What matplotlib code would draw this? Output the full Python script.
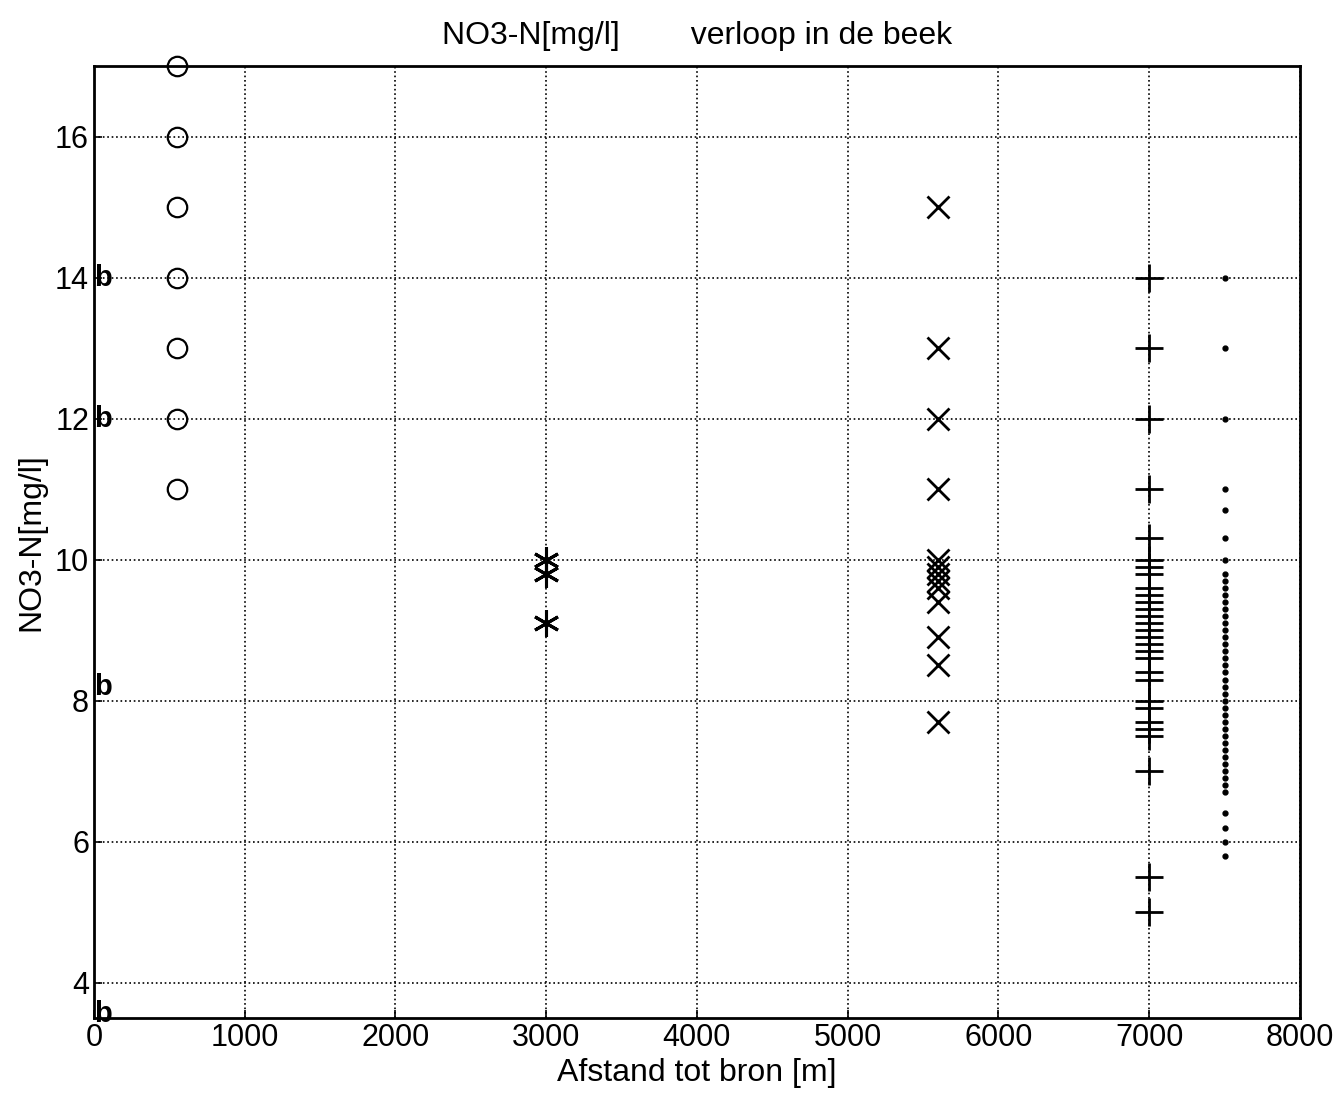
import matplotlib
matplotlib.use("Agg")
import matplotlib.pyplot as plt

plt.rcParams['font.family'] = ['Liberation Sans', 'DejaVu Sans']

# metingen per locatie (afstand tot bron in m, NO3-N in mg/l)
x_bron = 550
no3_bron = [17, 16, 15, 14, 13, 12, 11]

x_3000 = 3000
no3_3000 = [10.0, 9.8, 9.1]

x_5600 = 5600
no3_5600 = [15, 13, 12, 11, 10.0, 9.9, 9.8, 9.7, 9.6, 9.4, 8.9, 8.5, 7.7]

x_7000 = 7000
no3_7000 = [14, 13, 12, 11, 10.3, 10.0, 9.9, 9.8, 9.6, 9.5, 9.4, 9.3, 9.2,
            9.1, 9.0, 8.9, 8.8, 8.7, 8.6, 8.4, 8.3, 8.0, 7.9, 7.7, 7.6,
            7.5, 7.0, 5.5, 5.0]

x_7500 = 7500
no3_7500 = [14, 13, 12, 11, 10.7, 10.3, 10.0, 9.8, 9.7, 9.6, 9.5, 9.4, 9.3,
            9.2, 9.1, 9.0, 8.9, 8.8, 8.7, 8.6, 8.5, 8.4, 8.3, 8.2, 8.1, 8.0,
            7.9, 7.8, 7.7, 7.6, 7.5, 7.4, 7.3, 7.2, 7.1, 7.0, 6.9, 6.8, 6.7,
            6.4, 6.2, 6.0, 5.8]

# losse 'b' tekens langs de y-as
b_y = [14, 12, 8.2, 3.55]

xticks = list(range(0, 8001, 1000))
yticks = [4, 6, 8, 10, 12, 14, 16]

fig = plt.figure(figsize=(13.4, 11.01), dpi=100)
ax = fig.add_axes([0.0701, 0.0754, 0.9, 0.8646])

ax.plot([x_bron] * len(no3_bron), no3_bron, 'o', mfc='none', mec='black',
        ms=14, mew=1.6, clip_on=False)
for v in no3_3000:
    ax.plot(x_3000, v, marker=(6, 2, 0), color='black', ms=19, mew=2.2)
ax.plot([x_5600] * len(no3_5600), no3_5600, 'x', color='black', ms=16, mew=2)
ax.plot([x_7000] * len(no3_7000), no3_7000, '+', color='black', ms=20, mew=2)
ax.plot([x_7500] * len(no3_7500), no3_7500, '.', color='black', ms=7)

for yb in b_y:
    ax.text(0, yb, 'b', fontsize=21, fontweight='bold', ha='left',
            va='center', color='black')

ax.set_xlim(0, 8000)
ax.set_ylim(3.5, 17)
ax.set_xticks(xticks)
ax.set_yticks(yticks)
ax.tick_params(direction='in', labelsize=22, length=6, width=1.2)
ax.grid(True, linestyle=':', color='black', linewidth=1.2)
for s in ax.spines.values():
    s.set_linewidth(2)

ax.set_title("NO3-N[mg/l]        verloop in de beek", fontsize=23, pad=16)
ax.set_xlabel("Afstand tot bron [m]", fontsize=23, labelpad=4)
ax.set_ylabel("NO3-N[mg/l]", fontsize=23, labelpad=6)

fig.savefig("out.png", dpi=100)
